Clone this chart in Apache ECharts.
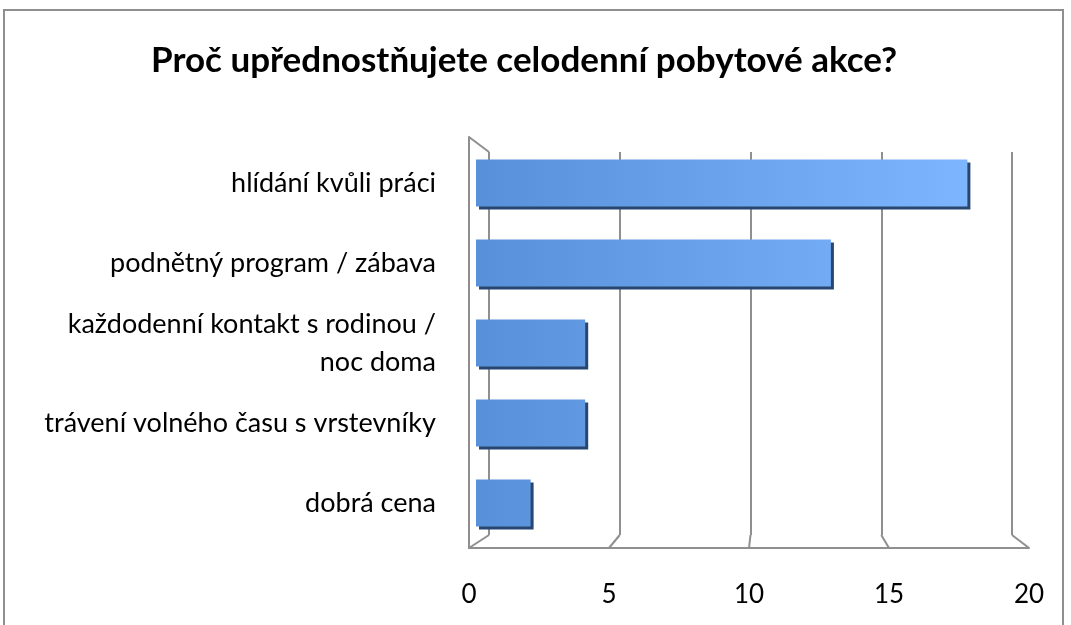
<!DOCTYPE html>
<html>
<head>
<meta charset="utf-8">
<script src="https://cdn.jsdelivr.net/npm/echarts@6/dist/echarts.min.js"></script>
<style>
  html, body { margin: 0; padding: 0; background: #fff; }
  #chart { width: 1071px; height: 625px; }
</style>
</head>
<body>
<div id="chart"></div>
<script>
// data
const categories = [
  'hlídání kvůli práci',
  'podnětný program / zábava',
  'každodenní kontakt s rodinou /\nnoc doma',
  'trávení volného času s vrstevníky',
  'dobrá cena'
]
const values = [18, 13, 4, 4, 2]
const xTicks = [0, 5, 10, 15, 20]
const titleText = 'Proč upřednostňujete celodenní pobytové akce?'

const FONT = 'Lato, "Open Sans", sans-serif'
const GRAY = '#8f8f8f'

const chart = echarts.init(document.getElementById('chart'))

// 3D look: floor connectors between back wall and front axis
const renderFloor = function (params, api) {
  const v = api.value(0)
  const back = chart.convertToPixel({ gridIndex: 0 }, [v, 0])
  const front = api.coord([v, 0])
  return {
    type: 'line',
    shape: { x1: back[0], y1: back[1], x2: front[0], y2: front[1] },
    style: { stroke: GRAY, lineWidth: 2 }
  }
}
const renderCorner = function (params, api) {
  const back = chart.convertToPixel({ gridIndex: 0 }, [0, 1])
  const front = api.coord([0, 1])
  return {
    type: 'line',
    shape: { x1: front[0], y1: front[1], x2: back[0], y2: back[1] },
    style: { stroke: GRAY, lineWidth: 2 }
  }
}

const option = {
  animation: false,
  backgroundColor: '#fff',
  title: {
    text: titleText,
    left: 146,
    top: 38,
    textStyle: { fontFamily: FONT, fontSize: 35, fontWeight: 'bold', color: '#000' }
  },
  graphic: [{
    type: 'rect',
    shape: { x: 4, y: 10, width: 1059, height: 640 },
    style: { fill: 'none', stroke: GRAY, lineWidth: 2 },
    silent: true
  }],
  grid: [
    // back wall
    { left: 489, right: 59, top: 152, bottom: 90 },
    // bars
    { left: 476, right: 49, top: 143, bottom: 82 },
    // front axis
    { left: 469, right: 42, top: 137, bottom: 77 }
  ],
  xAxis: [
    {
      gridIndex: 0, type: 'value', min: 0, max: 20, interval: 5,
      axisLine: { show: false }, axisTick: { show: false }, axisLabel: { show: false },
      splitLine: { show: true, lineStyle: { color: GRAY, width: 2 } }
    },
    {
      gridIndex: 1, type: 'value', min: 0, max: 20, interval: 5,
      axisLine: { show: false }, axisTick: { show: false }, axisLabel: { show: false },
      splitLine: { show: false }
    },
    {
      gridIndex: 2, type: 'value', min: 0, max: 20, interval: 5,
      axisLine: { show: true, lineStyle: { color: GRAY, width: 2 } },
      axisTick: { show: false },
      axisLabel: { margin: 34, fontFamily: FONT, fontSize: 26, color: '#000' },
      splitLine: { show: false }
    }
  ],
  yAxis: [
    {
      gridIndex: 0, type: 'value', min: 0, max: 1,
      axisLine: { show: false }, axisTick: { show: false }, axisLabel: { show: false },
      splitLine: { show: false }
    },
    {
      gridIndex: 1, type: 'category', inverse: true, data: categories,
      axisLine: { show: false }, axisTick: { show: false },
      axisLabel: {
        margin: 40, fontFamily: FONT, fontSize: 27, color: '#000', lineHeight: 38, align: 'right',
        padding: [6, 0, 0, 0]
      },
      splitLine: { show: false }
    },
    {
      gridIndex: 2, type: 'value', min: 0, max: 1,
      axisLine: { show: true, lineStyle: { color: GRAY, width: 2 } },
      axisTick: { show: false }, axisLabel: { show: false },
      splitLine: { show: false }
    }
  ],
  series: [
    {
      type: 'bar',
      xAxisIndex: 1,
      yAxisIndex: 1,
      data: values,
      barWidth: 47,
      itemStyle: {
        color: new echarts.graphic.LinearGradient(476, 0, 970, 0, [
          { offset: 0, color: '#5890DA' },
          { offset: 1, color: '#7DB5FE' }
        ], true),
        shadowColor: '#274670',
        shadowBlur: 0,
        shadowOffsetX: 3,
        shadowOffsetY: 3
      }
    },
    {
      type: 'custom',
      xAxisIndex: 2,
      yAxisIndex: 2,
      data: xTicks.map(function (v) { return [v] }),
      renderItem: renderFloor,
      silent: true,
      z: 1
    },
    {
      type: 'custom',
      xAxisIndex: 2,
      yAxisIndex: 2,
      data: [[0]],
      renderItem: renderCorner,
      silent: true,
      z: 1
    }
  ]
}

chart.setOption(option)
</script>
</body>
</html>
